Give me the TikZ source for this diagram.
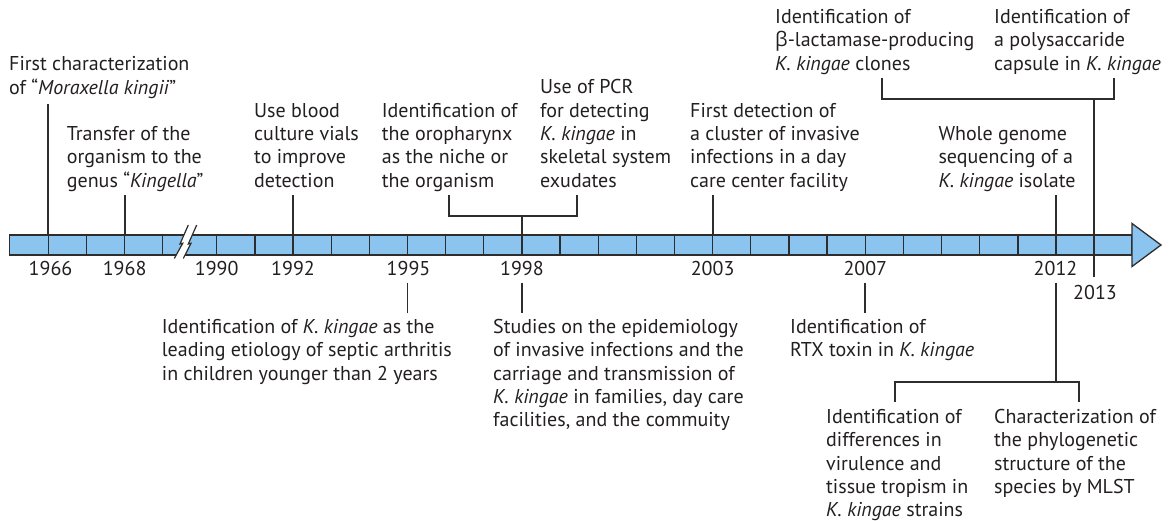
\documentclass[tikz,border=0pt]{standalone}
\usepackage{fontspec}
\setmainfont{PT Sans}
\newfontfamily\grk{Open Sans}
\definecolor{barblue}{RGB}{139,196,239}
\definecolor{ink}{RGB}{35,31,32}
\definecolor{edge}{RGB}{45,45,45}
\begin{document}
\begin{tikzpicture}[x=1pt,y=-1pt,
  txt/.style={anchor=north west,inner sep=0pt,align=left,font=\fontsize{20}{23.33}\selectfont,text=ink},
  yearlbl/.style={anchor=base,inner sep=0pt,font=\fontsize{20}{23.33}\selectfont,text=ink},
  conn/.style={draw=edge,line width=1.9pt},
  barline/.style={draw=edge,line width=1.3pt}]
\useasboundingbox (0,0) rectangle (1169,521);
% bar
\draw[barline,fill=barblue] (9.5,235) rectangle (1132,255);
\draw[barline,fill=barblue,line join=miter] (1132,223.5) -- (1161,245) -- (1132,266.5) -- cycle;
\foreach \x in {48.3,86.45,124.6,162.75} \draw[barline] (\x,235) -- (\x,255);
\foreach \k in {0,...,23} \draw[barline] ({216.7+\k*38.15},235) -- ++(0,20);
% break
\fill[white] (188.3,225) -- (180,244) -- (182.7,243.3) -- (174.3,258.5) -- (183.3,258.5) -- (191,243.3) -- (188.3,244) -- (196.7,225) -- cycle;
\draw[edge,line width=1.2pt] (188.3,225) -- (180,244) -- (182.7,243.3) -- (174.3,258.5);
\draw[edge,line width=1.2pt] (196.7,225) -- (188.3,244) -- (191,243.3) -- (183.3,258.5);
% year labels
\node[yearlbl] (y1966) at (50.5,276) {1966};
\node[yearlbl] (y1968) at (124.6,276) {1968};
\node[yearlbl] (y1990) at (216.7,276) {1990};
\node[yearlbl] (y1992) at (293,276) {1992};
\node[yearlbl] (y1995) at (408.5,276) {1995};
\node[yearlbl] (y1998) at (521.9,276) {1998};
\node[yearlbl] (y2003) at (712.6,276) {2003};
\node[yearlbl] (y2007) at (865.3,276) {2007};
\node[yearlbl] (y2012) at (1055.5,276) {2012};
\node[yearlbl] (y2013) at (1095,299) {2013};
% texts above
\node[txt] (e1966) at (9,54.4) {\strut First characterization\\of~“\textit{Moraxella kingii}”};
\node[txt] (e1968) at (66.7,124) {\strut Transfer of the\\organism to the\\genus~“\textit{Kingella}”};
\node[txt] (e1992) at (254,100.6) {\strut Use blood\\culture vials\\to improve\\detection};
\node[txt] (e1998a) at (381.7,100.6) {\strut Identification of\\the oropharynx\\as the niche or\\the organism};
\node[txt] (e1998b) at (540,77.3) {\strut Use of PCR\\for detecting\\\textit{K. kingae} in\\skeletal system\\exudates};
\node[txt] (e2003) at (690,100.6) {\strut First detection of\\a cluster of invasive\\infections in a day\\care center facility};
\node[txt] (e2013a) at (775,7) {\strut Identification of\\{\grk β}-lactamase-producing\\\textit{K. kingae} clones};
\node[txt] (e2013b) at (994,7) {\strut Identification of\\a polysaccaride\\capsule in \textit{K. kingae}};
\node[txt] (e2012a) at (938.3,124) {\strut Whole genome\\sequencing of a\\\textit{K. kingae} isolate};
% texts below
\node[txt] (e1995) at (161.7,317) {\strut Identification of \textit{K. kingae} as the\\leading etiology of septic arthritis\\in children younger than 2 years};
\node[txt] (e1998c) at (493,317) {\strut Studies on the epidemiology\\of invasive infections and the\\carriage and transmission of\\\textit{K. kingae} in families, day care\\facilities, and the commuity};
\node[txt] (e2007) at (790,317) {\strut Identification of\\RTX toxin in \textit{K. kingae}};
\node[txt] (e2012b) at (826,407) {\strut Identification of\\differences in\\virulence and\\tissue tropism in\\\textit{K. kingae} strains};
\node[txt] (e2012c) at (994,407) {\strut Characterization of\\the phylogenetic\\structure of the\\species by MLST};
% connector coordinates
\coordinate (a1966) at (48.3,104);  \coordinate (t1966) at (48.3,235);
\coordinate (a1968) at (124.6,195); \coordinate (t1968) at (124.6,235);
\coordinate (a1992) at (293,195);   \coordinate (t1992) at (293,235);
\coordinate (bl98) at (449,195);  \coordinate (br98) at (577.3,195);
\coordinate (j98) at (522,215.7);  \coordinate (t1998) at (522,235);
\coordinate (a2003) at (712.6,195); \coordinate (t2003) at (712.6,235);
\coordinate (a2012) at (1056,195);  \coordinate (t2012) at (1056,235);
\coordinate (bl13) at (882.3,78);  \coordinate (br13) at (1114,78);
\coordinate (j13) at (1094.2,99);  \coordinate (e13) at (1094.2,277);
\coordinate (s1995) at (407.5,282.5); \coordinate (d1995) at (407.5,312.5);
\coordinate (s1998) at (522,282.5);   \coordinate (d1998) at (522,312.5);
\coordinate (s2007) at (865.3,282.5); \coordinate (d2007) at (865.3,312.5);
\coordinate (s2012) at (1056,282.5);  \coordinate (j12) at (1056,381.7);
\coordinate (bl12) at (895,401.7);  \coordinate (br12) at (1079,401.7);
% connectors
\draw[conn] (a1966) -- (t1966);
\draw[conn] (a1968) -- (t1968);
\draw[conn] (a1992) -- (t1992);
\draw[conn] (bl98) |- (j98) -| (br98);
\draw[conn] (j98) -- (t1998);
\draw[conn] (a2003) -- (t2003);
\draw[conn] (a2012) -- (t2012);
\draw[conn] (bl13) |- (j13) -| (br13);
\draw[conn] (j13) -- (e13);
\draw[conn] (s1995) -- (d1995);
\draw[conn] (s1998) -- (d1998);
\draw[conn] (s2007) -- (d2007);
\draw[conn] (s2012) -- (j12);
\draw[conn] (bl12) |- (j12) -| (br12);
\end{tikzpicture}
\end{document}
